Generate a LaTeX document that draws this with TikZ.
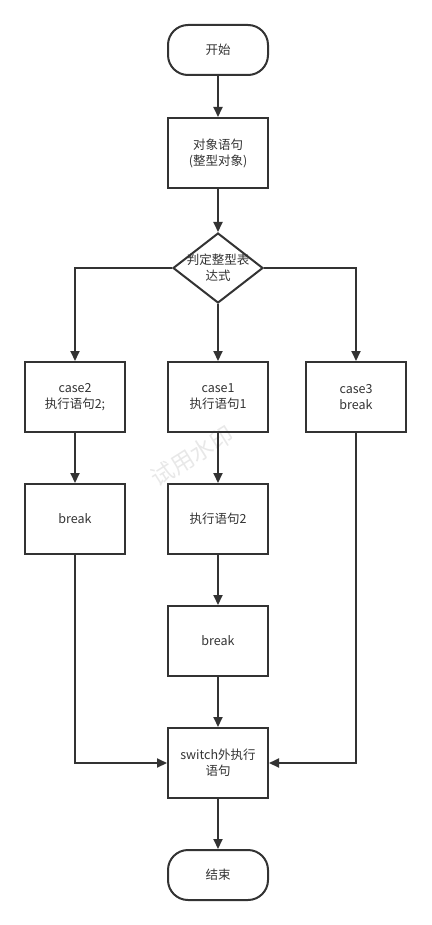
\documentclass[tikz,border=0pt]{standalone}
\usepackage{fontspec}
\setmainfont{Noto Sans CJK SC}
\usetikzlibrary{arrows.meta,shapes.geometric}
\definecolor{ln}{HTML}{333333}
\definecolor{wm}{HTML}{E8E8E8}
\begin{document}
\begin{tikzpicture}[x=1pt,y=-1pt,
  every node/.style={font=\fontsize{12.5}{16}\selectfont, text=ln, align=center},
  term/.style={draw=ln, line width=2pt, rounded corners=20pt, minimum width=100pt, minimum height=50pt, inner sep=0pt},
  proc/.style={draw=ln, line width=2pt, minimum width=100pt, minimum height=70pt, inner sep=0pt},
  dec/.style={draw=ln, line width=2pt, diamond, minimum width=90pt, minimum height=70pt, inner sep=0pt},
  conn/.style={draw=ln, line width=2pt, -{Triangle[length=10pt,width=9pt]}},
  plain/.style={draw=ln, line width=2pt}]
\useasboundingbox (0,0) rectangle (431,925);
\node[font=\fontsize{23}{23}\selectfont, text=wm, rotate=32, inner sep=0pt] (wmk) at (192,456) {试用水印};
\node[term] (start) at (218,50) {开始};
\node[proc] (obj) at (218,153) {对象语句\\(整型对象)};
\node[dec] (dec) at (218,268) {};
\node (dect) at (218,268) {判定整型表\\达式};
\node[proc] (c2) at (75,397) {case2\\执行语句2;};
\node[proc] (c1) at (218,397) {case1\\执行语句1};
\node[proc] (c3) at (356,397) {case3\\break};
\node[proc] (b2) at (75,519) {break};
\node[proc] (e2) at (218,519) {执行语句2};
\node[proc] (b1) at (218,641) {break};
\node[proc] (sw) at (218,763) {switch外执行\\语句};
\node[term] (end) at (218,875) {结束};
\draw[conn] (start) -- (obj);
\draw[conn] (obj) -- (dec);
\draw[conn] (dec.west) -| (c2.north);
\draw[conn] (dec.south) -- (c1.north);
\draw[conn] (dec.east) -| (c3.north);
\draw[conn] (c2) -- (b2);
\draw[conn] (c1) -- (e2);
\draw[conn] (e2) -- (b1);
\draw[conn] (b1) -- (sw);
\draw[conn] (b2.south) |- (sw.west);
\draw[conn] (c3.south) |- (sw.east);
\draw[conn] (sw) -- (end);
\end{tikzpicture}
\end{document}
